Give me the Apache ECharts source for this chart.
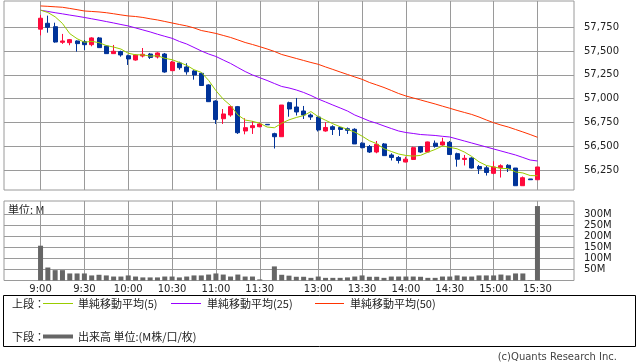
<!DOCTYPE html>
<html><head><meta charset="utf-8">
<script src="https://cdn.jsdelivr.net/npm/echarts@6/dist/echarts.min.js"></script>
<style>html,body{margin:0;padding:0;background:#fff}#c{width:638px;height:362px}</style>
</head><body><div id="c"></div>
<script>
// ---- data ----
const times = ['9:00','9:05','9:10','9:15','9:20','9:25','9:30','9:35','9:40','9:45','9:50','9:55',
 '10:00','10:05','10:10','10:15','10:20','10:25','10:30','10:35','10:40','10:45','10:50','10:55',
 '11:00','11:05','11:10','11:15','11:20','11:25','11:30',
 '12:25','12:30','12:35','12:40','12:45','12:50','12:55',
 '13:00','13:05','13:10','13:15','13:20','13:25','13:30','13:35','13:40','13:45','13:50','13:55',
 '14:00','14:05','14:10','14:15','14:20','14:25','14:30','14:35','14:40','14:45','14:50','14:55',
 '15:00','15:05','15:10','15:15','15:20','15:25','15:30'];
const tickLabels = ['9:00','9:30','10:00','10:30','11:00','11:30','13:00','13:30','14:00','14:30','15:00','15:30'];
const priceTicks = [56250,56500,56750,57000,57250,57500,57750];
const volumeTicks = [50,100,150,200,250,300];
// [open, close, low, high]
const ohlc = [
 [57730,57845,57665,57880],[57792,57750,57693,57872],[57756,57595,57588,57798],[57592,57606,57575,57680],
 [57588,57620,57561,57627],[57606,57578,57494,57613],[57599,57567,57511,57616],[57567,57638,57550,57645],
 [57638,57536,57536,57648],[57553,57473,57473,57561],[57473,57498,57473,57564],[57494,57459,57441,57504],
 [57451,57417,57354,57462],[57406,57459,57399,57466],[57448,57466,57433,57532],[57469,57433,57417,57480],
 [57438,57480,57422,57487],[57469,57280,57273,57480],[57294,57385,57291,57396],[57375,57325,57304,57388],
 [57333,57282,57252,57372],[57291,57249,57199,57298],[57266,57138,57133,57273],[57144,56968,56965,57151],
 [56975,56781,56734,56983],[56789,56839,56734,56891],[56828,56916,56810,56923],[56916,56642,56629,56923],
 [56660,56695,56625,56794],[56695,56716,56629,56765],[56705,56734,56699,56747],[56730,56725,56725,56730],
 [56632,56600,56476,56642],[56600,56933,56600,56933],[56958,56891,56810,56968],[56912,56860,56823,57007],
 [56870,56828,56786,56923],[56828,56807,56776,56844],[56807,56671,56655,56811],[56660,56697,56653,56752],
 [56705,56676,56618,56720],[56697,56676,56608,56705],[56684,56667,56629,56697],[56678,56524,56524,56689],
 [56532,56485,56478,56541],[56497,56439,56429,56513],[56439,56520,56426,56555],[56524,56401,56401,56534],
 [56408,56382,56350,56426],[56382,56350,56319,56397],[56334,56364,56331,56390],[56361,56485,56355,56495],
 [56495,56439,56430,56502],[56439,56545,56439,56548],[56532,56499,56485,56560],[56513,56545,56503,56589],
 [56541,56413,56408,56555],[56422,56363,56285,56432],[56361,56373,56298,56408],[56376,56271,56266,56384],
 [56287,56261,56208,56303],[56273,56224,56192,56292],[56215,56282,56206,56342],[56274,56295,56171,56310],
 [56300,56264,56229,56311],[56271,56085,56085,56271],[56085,56169,56085,56182],[56156,56148,56148,56156],
 [56148,56282,56148,56282]
];
const ma5 = [57930,57905,57860,57790,57683,57630,57593,57602,57588,57558,57542,57521,57477,57461,57460,57447,
 57451,57424,57409,57381,57350,57304,57276,57192,57084,56995,56928,56829,56775,56762,56741,56702,56694,56742,
 56777,56802,56822,56864,56811,56773,56736,56705,56677,56648,56606,56558,56527,56474,56445,56418,56403,56396,
 56404,56437,56466,56503,56488,56473,56439,56393,56336,56298,56282,56267,56265,56230,56219,56192,56190];
const ma25 = [57929,57916,57903,57891,57878,57866,57853,57839,57825,57810,57795,57779,57764,57743,57722,57701,
 57677,57655,57634,57601,57574,57538,57501,57469,57443,57406,57370,57327,57285,57249,57220,57191,57159,57128,
 57112,57091,57065,57033,56996,56965,56933,56902,56870,56828,56797,56765,56741,56713,56686,56660,56644,56634,
 56623,56618,56613,56604,56597,56576,56555,56534,56513,56492,56471,56450,56429,56408,56382,56355,56345];
const ma50 = [57974,57970,57965,57960,57948,57935,57921,57916,57911,57903,57892,57880,57869,57863,57853,57839,
 57827,57811,57795,57779,57764,57743,57716,57701,57685,57664,57643,57617,57590,57569,57546,57522,57496,57464,
 57443,57422,57401,57380,57361,57333,57307,57280,57254,57228,57203,57170,57144,57117,57086,57054,57028,57007,
 56986,56965,56944,56921,56899,56876,56855,56834,56807,56776,56747,56723,56702,56676,56650,56623,56594];
const volume = [158,59,47,47,32,32,32,23,26,23,18,18,23,18,14,14,14,18,18,14,18,23,23,27,32,27,18,27,18,18,
 5,0,64,26,22,17,17,12,18,12,12,12,14,18,23,17,17,12,18,18,18,18,17,12,12,18,18,23,18,18,23,23,23,27,23,32,32,2,338];

// ---- build ----
const PAD = 5;
const padCats = (p) => Array.from({length: PAD}, (_, i) => p + i);
const cats = [...padCats('a'), ...times, ...padCats('z')];
const padData = (arr) => [...Array(PAD).fill('-'), ...arr, ...Array(PAD).fill('-')];
const labelSet = new Set(tickLabels);
const showAt = (idx, val) => labelSet.has(val);

const RED = '#ff0a3c', BLUE = '#003399', GRIDC = '#9a9a9a';
const sans = 'DejaVu Sans';
const cjk = '"Noto Sans CJK JP", sans-serif';

const xBase = (gi, showLabel) => ({
  type: 'category', gridIndex: gi, data: cats, boundaryGap: false,
  axisLine: {show: false}, axisTick: {show: false},
  axisLabel: {show: showLabel, interval: showAt, color: '#222', fontFamily: sans, fontSize: 10, margin: 4},
  splitLine: {show: true, interval: showAt, lineStyle: {color: GRIDC, width: 1}}
});

const chart = echarts.init(document.getElementById('c'), null, {renderer: 'canvas'});
chart.setOption({
  animation: false,
  backgroundColor: '#fff',
  grid: [
    {left: 4, right: 64, top: 1, height: 189, show: true, borderColor: GRIDC, borderWidth: 1},
    {left: 4, right: 64, top: 201, height: 79.5, show: true, borderColor: GRIDC, borderWidth: 1}
  ],
  xAxis: [xBase(0, false), xBase(1, true)],
  yAxis: [
    {type: 'value', gridIndex: 0, position: 'right', min: 56040, max: 58026,
     axisLine: {show: false},
     axisTick: {show: false, customValues: priceTicks},
     axisLabel: {customValues: priceTicks, color: '#222', fontFamily: sans, fontSize: 10, margin: 10,
       formatter: v => v.toLocaleString('en-US')},
     splitLine: {show: true, lineStyle: {color: GRIDC, width: 1}}},
    {type: 'value', gridIndex: 1, position: 'right', min: 0, max: 361,
     axisLine: {show: false},
     axisTick: {show: false, customValues: volumeTicks},
     axisLabel: {customValues: volumeTicks, color: '#222', fontFamily: sans, fontSize: 10, margin: 10,
       formatter: v => v + 'M'},
     splitLine: {show: true, lineStyle: {color: GRIDC, width: 1}}}
  ],
  series: [
    {type: 'candlestick', name: 'price', xAxisIndex: 0, yAxisIndex: 0, data: padData(ohlc), barWidth: 4.5,
     itemStyle: {color: RED, color0: BLUE, borderColor: RED, borderColor0: BLUE, borderWidth: 1}},
    {type: 'line', name: '単純移動平均(50)', xAxisIndex: 0, yAxisIndex: 0, data: padData(ma50), showSymbol: false,
     lineStyle: {color: '#ff3300', width: 1}, itemStyle: {color: '#ff3300'}},
    {type: 'line', name: '単純移動平均(25)', xAxisIndex: 0, yAxisIndex: 0, data: padData(ma25), showSymbol: false,
     lineStyle: {color: '#9900ff', width: 1}, itemStyle: {color: '#9900ff'}},
    {type: 'line', name: '単純移動平均(5)', xAxisIndex: 0, yAxisIndex: 0, data: padData(ma5), showSymbol: false,
     lineStyle: {color: '#99cc00', width: 1}, itemStyle: {color: '#99cc00'}},
    {type: 'bar', name: '出来高', xAxisIndex: 1, yAxisIndex: 1, data: padData(volume), barWidth: 5,
     itemStyle: {color: '#666666'}}
  ],
  graphic: [
    {type: 'text', x: 8, y: 210, style: {text: '単位: M', font: '11px ' + cjk, fill: '#222', verticalAlign: 'middle'}},
    {type: 'rect', shape: {x: 3.5, y: 295.5, width: 632, height: 51}, style: {fill: 'none', stroke: '#000', lineWidth: 1}},
    {type: 'text', x: 12, y: 303.5, style: {text: '上段：', font: '11px ' + cjk, fill: '#222', verticalAlign: 'middle'}},
    {type: 'line', shape: {x1: 43, y1: 303.5, x2: 73, y2: 303.5}, style: {stroke: '#99cc00', lineWidth: 1}},
    {type: 'text', x: 78, y: 303.5, style: {text: '単純移動平均(5)', font: '11px ' + cjk, fill: '#222', verticalAlign: 'middle'}},
    {type: 'line', shape: {x1: 171, y1: 303.5, x2: 201, y2: 303.5}, style: {stroke: '#9900ff', lineWidth: 1}},
    {type: 'text', x: 207, y: 303.5, style: {text: '単純移動平均(25)', font: '11px ' + cjk, fill: '#222', verticalAlign: 'middle'}},
    {type: 'line', shape: {x1: 315, y1: 303.5, x2: 344, y2: 303.5}, style: {stroke: '#ff3300', lineWidth: 1}},
    {type: 'text', x: 350, y: 303.5, style: {text: '単純移動平均(50)', font: '11px ' + cjk, fill: '#222', verticalAlign: 'middle'}},
    {type: 'text', x: 12, y: 336.5, style: {text: '下段：', font: '11px ' + cjk, fill: '#222', verticalAlign: 'middle'}},
    {type: 'line', shape: {x1: 43, y1: 336.5, x2: 73, y2: 336.5}, style: {stroke: '#666666', lineWidth: 4}},
    {type: 'text', x: 78, y: 336.5, style: {text: '出来高 単位:(M株/口/枚)', font: '11px ' + cjk, fill: '#222', verticalAlign: 'middle'}},
    {type: 'text', x: 617, y: 357, style: {text: '(c)Quants Research Inc.', font: '10px ' + sans, fill: '#444', align: 'right', verticalAlign: 'middle'}}
  ]
});
</script></body></html>
